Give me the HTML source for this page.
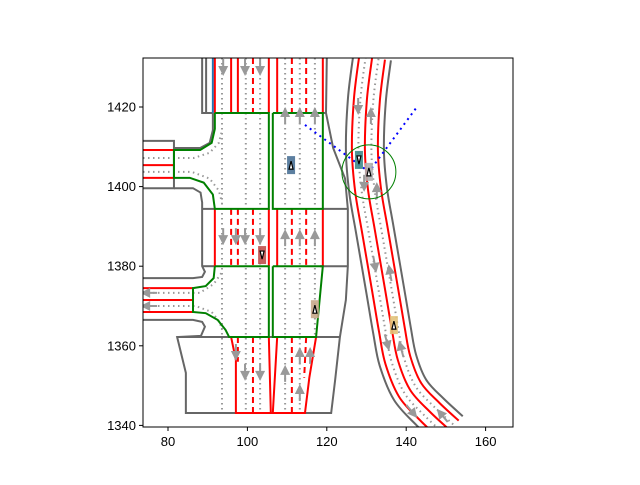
<!DOCTYPE html>
<html><head><meta charset="utf-8"><style>
body{margin:0;background:#fff;}
svg text{font-family:"Liberation Sans",sans-serif;font-size:13px;fill:#000;}
</style></head><body>
<svg id="chart" width="640" height="480" viewBox="0 0 640 480" xmlns="http://www.w3.org/2000/svg">
<defs><clipPath id="clip"><rect x="143" y="58" width="370" height="369"/></clipPath></defs>
<rect x="0" y="0" width="640" height="480" fill="#fff"/>
<g id="plot" clip-path="url(#clip)"></g>
<g id="axes"></g>
</svg>
<script>
const xTicks=[80,100,120,140,160];
const yTicks=[1340,1360,1380,1400,1420];
// road centerline of curved road (data units)
const curveX=[131.4,130.1,129.6,130.4,132.1,134.7,136.4,137.9,141.0,146.0,151.0];
const curveY=[1432.3,1421.8,1409.2,1399.1,1389.1,1374.0,1364.0,1356.4,1348.9,1343.4,1338.8];
// static features [kind, points]
const features=[
 ['gray',[[88.6,1432.3],[88.6,1418.5],[91.3,1418.5]]],
 ['gray',[[89.6,1432.3],[89.6,1418.5]]],
 ['blue',[[91.3,1432.3],[91.3,1418.5]]],
 ['gray',[[91.3,1418.5],[91.3,1414.2],[90.5,1411],[88.1,1409.7],[81.5,1409.7]]],
 ['gray',[[73.7,1411.5],[81.5,1411.5],[81.5,1399.6],[73.7,1399.6]]],
 ['gray',[[81.5,1399.6],[86.3,1399.6],[88.2,1398.5],[88.6,1396],[88.6,1380.0],[89.3,1378.6],[88.6,1377.3],[86.3,1377.0],[73.7,1377.0]]],
 ['gray',[[73.7,1366.5],[86.3,1366.5],[88.6,1366],[89.3,1364.8],[88.3,1362.5],[82.3,1362.2],[84.5,1353.2],[84.5,1343.1],[121.1,1343.1],[122.1,1351.4],[123.3,1362.2],[124.8,1371.5],[125.3,1380.0],[125.3,1394.4],[124.6,1402.0],[121.6,1409.7],[119.8,1418.5],[120.0,1432.3]]],
 ['gray',[[82.3,1362.2],[123.3,1362.2]]],
 ['gray',[[118.3,1380.0],[125.3,1380.0]]],
 ['gray',[[119.0,1394.4],[125.3,1394.4]]],
 ['gray',[[88.6,1394.4],[91.8,1394.4]]],
 ['gray',[[88.6,1380.0],[91.8,1380.0]]],
 ['gray',[[119.0,1418.5],[119.8,1418.5]]],
 ['red',[[91.8,1432.3],[91.8,1418.5]]],['red',[[95.9,1432.3],[95.9,1418.5]]],['red',[[97.6,1432.3],[97.6,1418.5]]],
 ['dash',[[101.4,1432.3],[101.4,1418.5]]],['red',[[105.4,1432.3],[105.4,1418.5]]],['red',[[107.5,1432.3],[107.5,1418.5]]],
 ['dash',[[111.2,1432.3],[111.2,1418.5]]],['dash',[[114.8,1432.3],[114.8,1418.5]]],['red',[[119.0,1432.3],[119.0,1418.5]]],
 ['red',[[91.8,1394.4],[91.8,1380.0]]],['dash',[[95.9,1394.4],[95.9,1380.0]]],['dash',[[97.6,1394.4],[97.6,1380.0]]],
 ['dash',[[101.4,1394.4],[101.4,1380.0]]],['red',[[105.4,1394.4],[105.4,1380.0]]],['red',[[107.5,1394.4],[107.5,1380.0]]],
 ['dash',[[111.2,1394.4],[111.2,1380.0]]],['dash',[[114.8,1394.4],[114.8,1380.0]]],['red',[[119.0,1394.4],[119.0,1380.0]]],
 ['red',[[95.9,1362.2],[97.1,1356.4],[97.1,1343.1],[105.9,1343.1],[105.4,1362.2]]],
 ['dash',[[97.6,1362.2],[97.6,1356]]],
 ['dash',[[101.4,1362.2],[101.4,1343.1]]],
 ['red',[[107.5,1362.2],[106.4,1343.1],[114.5,1343.1],[115.6,1352],[117.3,1362.2]]],
 ['dash',[[111.2,1362.2],[111.2,1343.1]]],
 ['dash',[[114.8,1362.2],[114.3,1352]]],
 ['red',[[73.7,1409.2],[81.5,1409.2]]],['red',[[73.7,1405.4],[81.5,1405.4]]],['red',[[73.7,1402.2],[81.5,1402.2]]],
 ['red',[[73.7,1374.5],[86.3,1374.5]]],['red',[[73.7,1371.5],[86.3,1371.5]]],['red',[[73.7,1368.5],[86.3,1368.5]]],
 ['dot',[[93.6,1432.3],[93.6,1343.1]]],['dot',[[99.6,1432.3],[99.6,1343.1]]],['dot',[[103.2,1432.3],[103.2,1343.1]]],
 ['dot',[[109.5,1432.3],[109.5,1343.1]]],['dot',[[113.2,1432.3],[113.2,1343.1]]],['dot',[[117.0,1432.3],[117.0,1362.2]]],
 ['dot',[[73.7,1407.2],[86.5,1407.2],[90.5,1408.5],[92.8,1411],[93.6,1414]]],
 ['dot',[[73.7,1403.7],[86,1403.7],[90.5,1402],[92.8,1399],[93.6,1396]]],
 ['dot',[[73.7,1373.3],[88,1373.3],[91.5,1375.5],[93.6,1378.5]]],
 ['dot',[[73.7,1370.0],[87,1370.0],[91,1368.5],[93,1366],[93.6,1364]]],
 ['green',[[91.8,1418.5],[91.8,1414.5],[91,1411],[88.1,1409.2],[81.5,1409.2],[81.5,1402.2],[85.5,1402.2],[89,1401],[91.3,1398],[91.8,1394.4],[105.4,1394.4],[105.4,1418.5],[91.8,1418.5]]],
 ['green',[[106.4,1418.5],[119.0,1418.5],[119.0,1394.4],[106.4,1394.4],[106.4,1418.5]]],
 ['green',[[91.8,1380.0],[91.5,1377],[89.5,1375],[86.3,1374.5],[86.3,1368.5],[89.5,1368.2],[92.5,1366.5],[94.5,1364],[95.4,1362.2],[105.4,1362.2],[105.4,1380.0],[91.8,1380.0]]],
 ['green',[[106.4,1380.0],[119.0,1380.0],[117.3,1362.2],[106.4,1362.2],[106.4,1380.0]]]
];
const arrowX=[93.9,99.4,103.2,109.5,113.2,117.0,93.9,97.1,99.4,103.2,109.5,113.2,117.0,75.0,75.0,99.4,103.2,97.1,109.5,113.2,115.8,113.2,127.9,131.1,129.4,132.6,132.1,135.9,135.2,138.7,141.5,149.0];
const arrowY=[1429.8,1429.8,1429.8,1418.0,1418.0,1418.0,1387.3,1387.3,1387.3,1387.3,1387.3,1387.3,1387.3,1373.3,1370.0,1353.2,1353.2,1358.2,1353.2,1357.7,1357.7,1348.4,1420.0,1418.0,1400.7,1399.1,1380.3,1378.5,1360.7,1359.4,1343.4,1342.6];
const arrowA=[0,0,0,180,180,180,0,0,0,0,180,180,180,90,90,0,0,0,180,180,180,180,0,180,0,180,-10,170,-15,165,-40,140];
const vehX=[111.0,103.7,117.0,128.1,130.6,136.9];
const vehY=[1405.4,1382.8,1369.2,1406.7,1403.7,1365.2];
const vehC=['#4a7196','#c0504d','#c8a88a','#3e8a8a','#b0b0b0','#e2c27a'];
const vehUp=[1,0,1,0,1,1];

const X0=168,XS=3.97,Y0=107,YS=3.98;
const sx=x=>X0+(x-80)*XS;
const sy=y=>Y0+(1420-y)*YS;
const NS='http://www.w3.org/2000/svg';
const plot=document.getElementById('plot'),axes=document.getElementById('axes');
function mk(t,a,p){const e=document.createElementNS(NS,t);for(const k in a)e.setAttribute(k,a[k]);(p||plot).appendChild(e);return e;}
const styles={gray:['#666',2,''],blue:['#1f77b4',2,''],red:['#f00',2,''],dash:['#f00',2,'6,4'],dot:['#999',2,'1.5,3.5'],green:['#008000',2,'']};
features.forEach(f=>{
 const s=styles[f[0]];
 const e=mk('polyline',{points:f[1].map(p=>sx(p[0])+','+sy(p[1])).join(' '),fill:'none',stroke:s[0],'stroke-width':s[1],'stroke-dasharray':s[2]});
 
 
});
const cp=curveX.map((x,i)=>[sx(x),sy(curveY[i])]);
function offset(d){return cp.map((p,i)=>{const a=cp[Math.max(0,i-1)],b=cp[Math.min(cp.length-1,i+1)];let dx=b[0]-a[0],dy=b[1]-a[1];const L=Math.hypot(dx,dy);return [p[0]-dy/L*d,p[1]+dx/L*d];});}
function smooth(pts){let s='M'+pts[0][0]+','+pts[0][1];for(let i=0;i<pts.length-1;i++){const p0=pts[Math.max(0,i-1)],p1=pts[i],p2=pts[i+1],p3=pts[Math.min(pts.length-1,i+2)];s+=' C'+(p1[0]+(p2[0]-p0[0])/6)+','+(p1[1]+(p2[1]-p0[1])/6)+' '+(p2[0]-(p3[0]-p1[0])/6)+','+(p2[1]-(p3[1]-p1[1])/6)+' '+p2[0]+','+p2[1];}return s;}
[[-19,'gray'],[19,'gray'],[-13,'red'],[13,'red'],[0,'red'],[-6.5,'dot'],[6.5,'dot']].forEach(o=>{
 const s=styles[o[1]];
 const e=mk('path',{d:smooth(offset(o[0])),fill:'none',stroke:s[0],'stroke-width':s[1],'stroke-dasharray':s[2]});
 
 
});
arrowX.forEach((x,i)=>{
 const g=mk('g',{transform:'translate('+sx(x)+','+sy(arrowY[i])+') rotate('+arrowA[i]+')'});
 
 
 mk('rect',{x:-1,y:-9,width:2,height:8,fill:'#999'},g);
 mk('polygon',{points:'-5,-2 5,-2 0,8',fill:'#999'},g);
});
const bl=[[114.5,1415.5],[130.6,1403.7],[142.7,1420]];
const bp=mk('polyline',{points:bl.map(p=>sx(p[0])+','+sy(p[1])).join(' '),fill:'none',stroke:'#00f','stroke-width':2,'stroke-dasharray':'2,4'});


const ci=mk('circle',{cx:sx(130.6),cy:sy(1403.7),r:6.8*XS,fill:'none',stroke:'#008000','stroke-width':1});


vehX.forEach((x,i)=>{
 const g=mk('g',{transform:'translate('+sx(x)+','+sy(vehY[i])+')'});
 
 
 mk('rect',{x:-4,y:-9,width:8,height:18,fill:vehC[i],opacity:0.9},g);
 mk('polygon',{points:vehUp[i]?'-2,4 2,4 0,-4':'-2,-4 2,-4 0,4',fill:'#fff',stroke:'#000','stroke-width':1.2},g);
});
const fr=mk('rect',{x:143,y:58,width:370,height:369,fill:'none',stroke:'#000','stroke-width':1},axes);


xTicks.forEach(v=>{
 const t=mk('line',{x1:sx(v),x2:sx(v),y1:427,y2:431,stroke:'#000'},axes);
 
 
 const l=mk('text',{x:sx(v),y:446,'text-anchor':'middle'},axes);l.textContent=v;
 
 
});
yTicks.forEach(v=>{
 const t=mk('line',{x1:139,x2:143,y1:sy(v),y2:sy(v),stroke:'#000'},axes);
 
 
 const l=mk('text',{x:136,y:sy(v)+4.5,'text-anchor':'end'},axes);l.textContent=v;
 
 
});
</script>
</body></html>
